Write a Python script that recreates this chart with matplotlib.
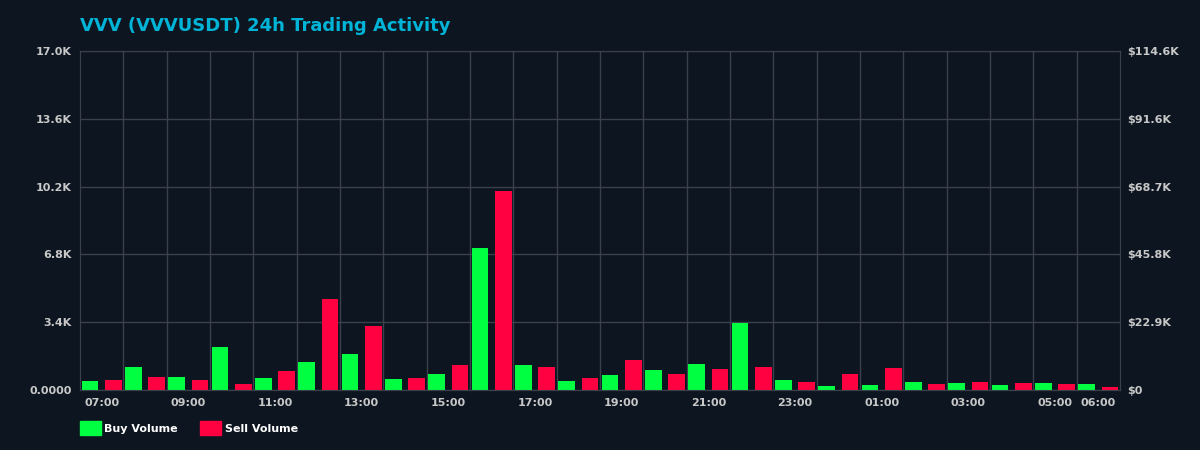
import matplotlib.pyplot as plt
import matplotlib.patches as mpatches
import numpy as np

hours = ['07:00', '08:00', '09:00', '10:00', '11:00', '12:00', '13:00', '14:00',
         '15:00', '16:00', '17:00', '18:00', '19:00', '20:00', '21:00', '22:00',
         '23:00', '00:00', '01:00', '02:00', '03:00', '04:00', '05:00', '06:00']
buy_volume = [450, 1150, 650, 2150, 600, 1400, 1800, 550, 800, 7120, 1250, 450,
              750, 1000, 1300, 3360, 500, 200, 250, 400, 350, 250, 350, 300]
sell_volume = [500, 650, 500, 300, 950, 4560, 3200, 600, 1250, 9980, 1150, 600,
               1500, 800, 1050, 1150, 400, 800, 1100, 300, 400, 350, 300, 150]
vol_ticks = [0, 3400, 6800, 10200, 13600, 17000]
vol_labels = ['0.0000', '3.4K', '6.8K', '10.2K', '13.6K', '17.0K']
usd_ticks = [0, 22920, 45840, 68760, 91680, 114600]
usd_labels = ['$0', '$22.9K', '$45.8K', '$68.7K', '$91.6K', '$114.6K']
shown_hours = ['07:00', '09:00', '11:00', '13:00', '15:00', '17:00', '19:00',
               '21:00', '23:00', '01:00', '03:00', '05:00', '06:00']

bg = '#0d1520'
grid_c = '#3a414a'
green = '#00ff41'
red = '#ff0040'
txt = '#c8c8c8'

fig = plt.figure(figsize=(12, 4.5), dpi=100, facecolor=bg)
ax = fig.add_axes([80 / 1200, 60 / 450, 1040 / 1200, 339 / 450])
ax.set_facecolor(bg)

x = np.arange(len(hours))
w = 0.38
ax.bar(x - 0.27, buy_volume, width=w, color=green, zorder=3)
ax.bar(x + 0.27, sell_volume, width=w, color=red, zorder=3)

ax.set_xlim(-0.5, len(hours) - 0.5)
ax.set_ylim(0, 17000)
ax.set_yticks(vol_ticks)
ax.set_yticklabels(vol_labels)
pos = [hours.index(h) for h in shown_hours]
ax.set_xticks(pos)
ax.set_xticklabels(shown_hours)
ax.set_xticks(np.arange(0.5, len(hours) - 0.5, 1), minor=True)
ax.grid(True, which='minor', axis='x', color=grid_c, linewidth=1, zorder=0)
ax.grid(True, which='major', axis='y', color=grid_c, linewidth=1, zorder=0)
ax.tick_params(which='both', length=0)
ax.tick_params(axis='both', colors=txt, labelsize=8, pad=6)
for lab in ax.get_xticklabels() + ax.get_yticklabels():
    lab.set_fontweight('bold')
for s in ax.spines.values():
    s.set_color(grid_c)

ax2 = ax.twinx()
ax2.set_ylim(0, 114600)
ax2.set_yticks(usd_ticks)
ax2.set_yticklabels(usd_labels)
ax2.tick_params(length=0, colors=txt, labelsize=8, pad=5)
for lab in ax2.get_yticklabels():
    lab.set_fontweight('bold')
for s in ax2.spines.values():
    s.set_color(grid_c)

fig.text(80 / 1200, 1 - 26 / 450, 'VVV (VVVUSDT) 24h Trading Activity', color='#00b4d8',
         fontsize=13, fontweight='bold', ha='left', va='center')

handles = [mpatches.Patch(color=green, label='Buy Volume'),
           mpatches.Patch(color=red, label='Sell Volume')]
leg = fig.legend(handles=handles, loc='center left', bbox_to_anchor=(70 / 1200, 1 - 428 / 450),
                 ncol=2, frameon=False, handlelength=1.9, handleheight=1.45,
                 handletextpad=0.3, columnspacing=2.0, prop={'size': 8, 'weight': 'bold'})
for t in leg.get_texts():
    t.set_color('white')

fig.savefig('out.png', dpi=100, facecolor=bg)
